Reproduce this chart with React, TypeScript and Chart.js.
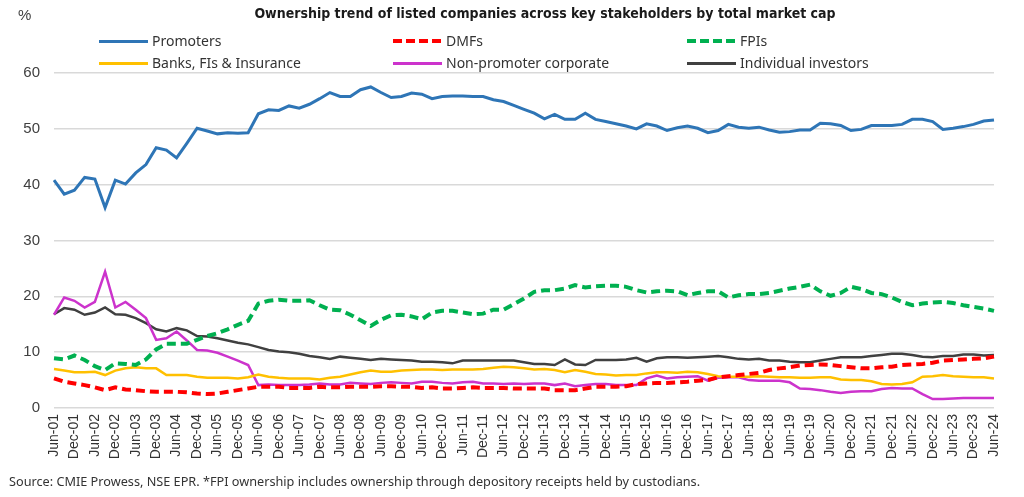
import React, { useEffect, useRef } from "react";
import { Chart, registerables } from "chart.js";

Chart.register(...registerables);

// Quarterly categories (Jun-01 .. Jun-24)
const quarters = [
  "Jun-01", "Sep-01", "Dec-01",
  "Mar-02", "Jun-02", "Sep-02", "Dec-02",
  "Mar-03", "Jun-03", "Sep-03", "Dec-03",
  "Mar-04", "Jun-04", "Sep-04", "Dec-04",
  "Mar-05", "Jun-05", "Sep-05", "Dec-05",
  "Mar-06", "Jun-06", "Sep-06", "Dec-06",
  "Mar-07", "Jun-07", "Sep-07", "Dec-07",
  "Mar-08", "Jun-08", "Sep-08", "Dec-08",
  "Mar-09", "Jun-09", "Sep-09", "Dec-09",
  "Mar-10", "Jun-10", "Sep-10", "Dec-10",
  "Mar-11", "Jun-11", "Sep-11", "Dec-11",
  "Mar-12", "Jun-12", "Sep-12", "Dec-12",
  "Mar-13", "Jun-13", "Sep-13", "Dec-13",
  "Mar-14", "Jun-14", "Sep-14", "Dec-14",
  "Mar-15", "Jun-15", "Sep-15", "Dec-15",
  "Mar-16", "Jun-16", "Sep-16", "Dec-16",
  "Mar-17", "Jun-17", "Sep-17", "Dec-17",
  "Mar-18", "Jun-18", "Sep-18", "Dec-18",
  "Mar-19", "Jun-19", "Sep-19", "Dec-19",
  "Mar-20", "Jun-20", "Sep-20", "Dec-20",
  "Mar-21", "Jun-21", "Sep-21", "Dec-21",
  "Mar-22", "Jun-22", "Sep-22", "Dec-22",
  "Mar-23", "Jun-23", "Sep-23", "Dec-23",
  "Mar-24", "Jun-24",
];

const promoters = [
  40.8, 38.3, 39.0, 41.3, 41.0, 35.9, 40.8, 40.1, 42.1, 43.6,
  46.6, 46.2, 44.8, 47.4, 50.1, 49.6, 49.1, 49.3, 49.2, 49.3,
  52.7, 53.4, 53.3, 54.1, 53.7, 54.4, 55.4, 56.5, 55.8, 55.8,
  57.0, 57.5, 56.5, 55.6, 55.8, 56.4, 56.2, 55.4, 55.8, 55.9,
  55.9, 55.8, 55.8, 55.2, 54.9, 54.2, 53.5, 52.8, 51.8, 52.6,
  51.7, 51.7, 52.8, 51.7, 51.3, 50.9, 50.5, 50.0, 50.9, 50.5,
  49.7, 50.2, 50.5, 50.1, 49.3, 49.7, 50.8, 50.3, 50.1, 50.3,
  49.8, 49.4, 49.5, 49.8, 49.8, 51.0, 50.9, 50.6, 49.7, 49.9,
  50.6, 50.6, 50.6, 50.8, 51.7, 51.7, 51.3, 49.9, 50.1, 50.4,
  50.8, 51.4, 51.6,
];

const dmfs = [
  5.3, 4.7, 4.4, 4.1, 3.7, 3.2, 3.7, 3.3, 3.2, 3.0,
  2.9, 2.9, 2.9, 2.8, 2.6, 2.5, 2.6, 2.9, 3.2, 3.5,
  3.8, 3.8, 3.8, 3.6, 3.6, 3.6, 3.8, 3.7, 3.7, 3.8,
  3.8, 3.8, 3.9, 3.9, 3.8, 3.8, 3.6, 3.7, 3.5, 3.5,
  3.6, 3.7, 3.6, 3.6, 3.6, 3.5, 3.5, 3.5, 3.5, 3.2,
  3.2, 3.2, 3.5, 3.8, 3.8, 3.8, 3.9, 4.3, 4.4, 4.5,
  4.5, 4.6, 4.7, 4.9, 5.0, 5.5, 5.7, 5.9, 6.1, 6.3,
  6.8, 7.1, 7.3, 7.6, 7.7, 7.8, 7.7, 7.5, 7.3, 7.1,
  7.1, 7.3, 7.4, 7.7, 7.8, 7.9, 8.1, 8.5, 8.6, 8.7,
  8.8, 8.9, 9.2,
];

const fpis = [
  8.9, 8.7, 9.4, 8.6, 7.5, 6.8, 8.0, 7.9, 7.7, 8.7,
  10.5, 11.5, 11.5, 11.5, 12.2, 12.9, 13.4, 14.1, 14.9, 15.6,
  18.7, 19.2, 19.4, 19.2, 19.2, 19.3, 18.4, 17.6, 17.5, 16.7,
  15.7, 14.7, 15.8, 16.6, 16.7, 16.4, 15.9, 17.1, 17.4, 17.4,
  17.1, 16.8, 16.9, 17.6, 17.6, 18.6, 19.6, 20.8, 21.1, 21.1,
  21.4, 22.0, 21.6, 21.8, 21.9, 21.9, 21.7, 21.1, 20.7, 20.9,
  21.0, 20.9, 20.2, 20.6, 20.9, 20.9, 19.8, 20.2, 20.4, 20.4,
  20.6, 21.0, 21.4, 21.7, 22.1, 20.9, 20.1, 20.6, 21.7, 21.3,
  20.6, 20.4, 19.8, 19.0, 18.4, 18.7, 18.9, 19.0, 18.8, 18.4,
  18.1, 17.8, 17.4,
];

const banks = [
  7.0, 6.7, 6.4, 6.4, 6.5, 5.9, 6.7, 7.1, 7.3, 7.1,
  7.1, 5.9, 5.9, 5.9, 5.6, 5.4, 5.4, 5.4, 5.3, 5.5,
  6.0, 5.6, 5.4, 5.3, 5.3, 5.3, 5.1, 5.4, 5.6, 6.0,
  6.4, 6.7, 6.5, 6.5, 6.7, 6.8, 6.9, 6.9, 6.8, 6.9,
  6.9, 6.9, 7.0, 7.2, 7.4, 7.3, 7.1, 6.9, 7.0, 6.8,
  6.4, 6.8, 6.5, 6.1, 6.0, 5.8, 5.9, 5.9, 6.2, 6.4,
  6.4, 6.3, 6.5, 6.4, 6.1, 5.7, 5.6, 5.6, 5.6, 5.7,
  5.6, 5.5, 5.5, 5.4, 5.4, 5.5, 5.5, 5.1, 5.0, 5.0,
  4.8, 4.3, 4.2, 4.3, 4.6, 5.6, 5.7, 5.9, 5.7, 5.6,
  5.5, 5.5, 5.3,
];

const nonPromoterCorporate = [
  16.7, 19.8, 19.2, 18.0, 19.0, 24.4, 18.0, 19.0, 17.6, 16.1,
  12.2, 12.5, 13.7, 12.1, 10.4, 10.3, 9.9, 9.2, 8.5, 7.7,
  4.1, 4.2, 4.1, 4.1, 4.1, 4.2, 4.4, 4.2, 4.2, 4.5,
  4.4, 4.3, 4.5, 4.6, 4.5, 4.4, 4.7, 4.7, 4.5, 4.4,
  4.6, 4.7, 4.4, 4.4, 4.3, 4.4, 4.3, 4.4, 4.4, 4.1,
  4.4, 3.9, 4.1, 4.3, 4.3, 4.1, 4.1, 4.1, 5.3, 5.8,
  5.3, 5.5, 5.6, 5.7, 4.9, 5.4, 5.5, 5.5, 5.0, 4.9,
  4.9, 4.9, 4.6, 3.5, 3.4, 3.2, 2.9, 2.7, 2.9, 3.0,
  3.0, 3.4, 3.6, 3.5, 3.5, 2.5, 1.6, 1.6, 1.7, 1.8,
  1.8, 1.8, 1.8,
];

const individualInvestors = [
  16.8, 17.9, 17.6, 16.7, 17.1, 18.0, 16.8, 16.7, 16.1, 15.2,
  14.1, 13.7, 14.3, 13.9, 12.9, 12.8, 12.5, 12.1, 11.7, 11.4,
  10.9, 10.4, 10.1, 10.0, 9.7, 9.3, 9.1, 8.8, 9.2, 9.0,
  8.8, 8.6, 8.8, 8.7, 8.6, 8.5, 8.3, 8.3, 8.2, 8.0,
  8.5, 8.5, 8.5, 8.5, 8.5, 8.5, 8.2, 7.9, 7.9, 7.7,
  8.7, 7.8, 7.7, 8.6, 8.6, 8.6, 8.7, 9.0, 8.3, 8.9,
  9.1, 9.1, 9.0, 9.1, 9.2, 9.3, 9.1, 8.8, 8.7, 8.8,
  8.5, 8.5, 8.3, 8.2, 8.2, 8.5, 8.8, 9.1, 9.1, 9.1,
  9.3, 9.5, 9.7, 9.7, 9.5, 9.2, 9.1, 9.3, 9.3, 9.6,
  9.6, 9.4, 9.5,
];

const seriesNames = [
  "Promoters",
  "DMFs",
  "FPIs",
  "Banks, FIs & Insurance",
  "Non-promoter corporate",
  "Individual investors",
];
const seriesValues = [promoters, dmfs, fpis, banks, nonPromoterCorporate, individualInvestors];
const seriesColors = ["#2e75b6", "#ff0000", "#00b050", "#ffc000", "#cc33cc", "#404040"];
const seriesDashed = [false, true, true, false, false, false];
const seriesWidths = [3, 4, 4, 2.5, 2.5, 2.5];

const yTicks = [0, 10, 20, 30, 40, 50, 60];

const TITLE = "Ownership trend of listed companies across key stakeholders by total market cap";
const SOURCE = "Source: CMIE Prowess, NSE EPR. *FPI ownership includes ownership through depository receipts held by custodians.";

const legendCols = [99, 393, 687];
const legendRows = [41, 63];

export default function App() {
  const canvasRef = useRef<HTMLCanvasElement | null>(null);

  useEffect(() => {
    if (!canvasRef.current) return;
    const chart = new Chart(canvasRef.current, {
      type: "line",
      data: {
        labels: quarters,
        datasets: seriesNames.map((name, i) => ({
          label: name,
          data: seriesValues[i],
          borderColor: seriesColors[i],
          backgroundColor: seriesColors[i],
          borderWidth: seriesWidths[i],
          borderDash: seriesDashed[i] ? [9, 5] : [],
          pointRadius: 0,
          tension: 0,
          fill: false,
        })),
      },
      options: {
        animation: false,
        responsive: true,
        maintainAspectRatio: false,
        layout: { padding: { top: 73, right: 30, left: 0, bottom: 0 } },
        plugins: {
          legend: { display: false },
          title: { display: false },
          tooltip: { enabled: false },
        },
        scales: {
          x: {
            type: "category",
            offset: false,
            grid: { display: false, drawTicks: false },
            border: { display: false },
            afterFit: (scale: any) => {
              scale.height = 89;
            },
            ticks: {
              autoSkip: false,
              maxRotation: 90,
              minRotation: 90,
              padding: 6,
              color: "#333333",
              font: { family: "'Liberation Sans', Arial, sans-serif", size: 14 },
              callback: (_v: any, idx: number) => (idx % 2 === 0 ? quarters[idx] : ""),
            },
          },
          y: {
            min: 0,
            max: 60,
            afterFit: (scale: any) => {
              scale.width = 54;
            },
            afterBuildTicks: (scale: any) => {
              scale.ticks = yTicks.map((v) => ({ value: v }));
            },
            grid: { color: "#d9d9d9", lineWidth: 1.5, drawTicks: false },
            border: { display: false },
            ticks: {
              padding: 14,
              color: "#404040",
              font: { family: "'Liberation Sans', Arial, sans-serif", size: 15 },
            },
          },
        },
      },
    });
    return () => chart.destroy();
  }, []);

  return (
    <div
      style={{
        position: "fixed",
        left: 0,
        top: 0,
        width: 1024,
        height: 497,
        background: "#ffffff",
        overflow: "hidden",
        fontFamily: "'Noto Sans', sans-serif",
        color: "#333333",
      }}
    >
      <canvas ref={canvasRef} style={{ position: "absolute", left: 0, top: 0 }} />
      <div
        style={{
          position: "absolute",
          left: 18,
          top: 6,
          fontSize: 15,
          color: "#404040",
          fontFamily: "'Liberation Sans', Arial, sans-serif",
        }}
      >
        %
      </div>
      <div
        style={{
          position: "absolute",
          left: 0,
          width: 1024,
          top: 5,
          paddingLeft: 66,
          boxSizing: "border-box",
          textAlign: "center",
          fontWeight: 700,
          fontSize: 14,
          color: "#1a1a1a",
          fontFamily: "'DejaVu Sans Condensed', 'Liberation Sans Narrow', 'Roboto', sans-serif",
          fontStretch: "condensed",
        }}
      >
        {TITLE}
      </div>
      {seriesNames.map((name, i) => {
        const col = i % 3;
        const row = Math.floor(i / 3);
        const x = legendCols[col];
        const y = legendRows[row];
        const lineStyle: React.CSSProperties = seriesDashed[i]
          ? {
              background: `repeating-linear-gradient(to right, ${seriesColors[i]} 0px, ${seriesColors[i]} 9px, transparent 9px, transparent 13px)`,
              height: 4,
            }
          : { background: seriesColors[i], height: 3 };
        return (
          <div key={name}>
            <div
              style={{
                position: "absolute",
                left: x,
                top: y - (seriesDashed[i] ? 2 : 1.5),
                width: 49,
                ...lineStyle,
              }}
            />
            <div
              style={{
                position: "absolute",
                left: x + 53,
                top: y - 10,
                fontSize: 14,
                lineHeight: "20px",
                color: "#333333",
                whiteSpace: "nowrap",
              }}
            >
              {name}
            </div>
          </div>
        );
      })}
      <div
        style={{
          position: "absolute",
          left: 9,
          top: 472,
          fontSize: 12.7,
          lineHeight: "18px",
          color: "#333333",
          whiteSpace: "nowrap",
        }}
      >
        {SOURCE}
      </div>
    </div>
  );
}
